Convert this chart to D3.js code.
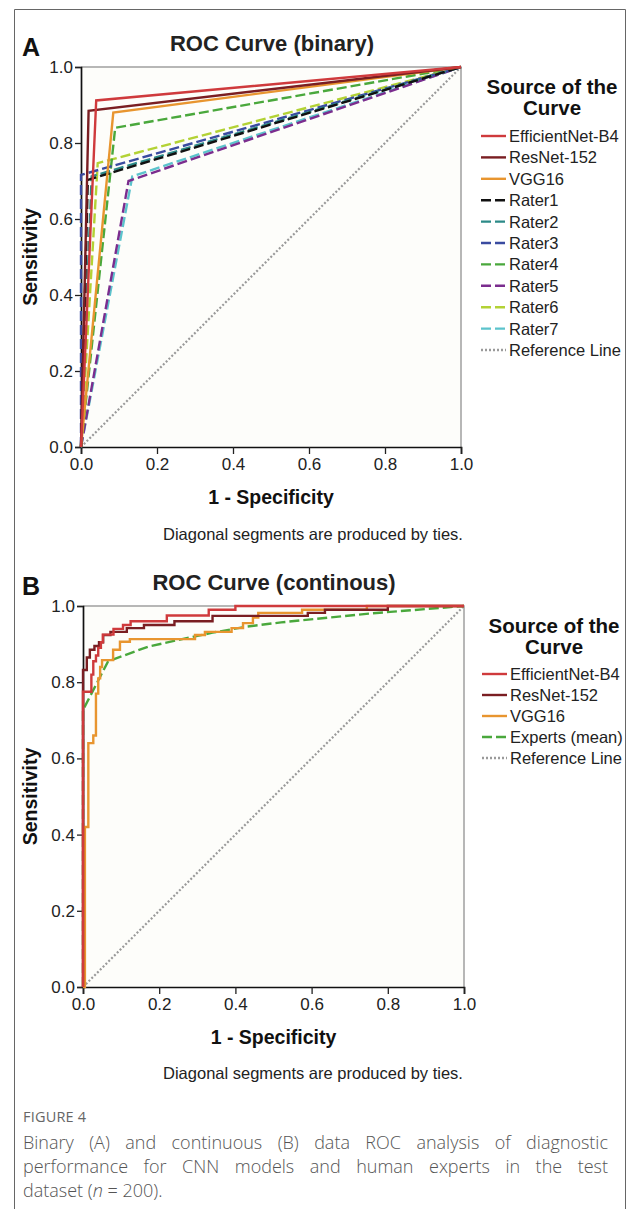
<!DOCTYPE html>
<html>
<head>
<meta charset="utf-8">
<script src="https://cdn.jsdelivr.net/npm/d3@7"></script>
<style>
  body { margin: 0; background: #fff; }
  #cap { position: absolute; left: 23px; top: 1107px; width: 585px;
         font-family: "Open Sans", sans-serif; color: #555; font-weight: 300; }
  #cap .fig { font-size: 14.5px; letter-spacing: 0.2px; margin-bottom: 4px; font-weight: 400; color: #666; }
  #cap .ln { font-size: 18px; line-height: 24px; text-align: justify; text-align-last: justify; white-space: nowrap; }
  #cap .ln.last { text-align-last: left; }
</style>
</head>
<body>
<script>
// ---- data ----
const tickValues = [0, 0.2, 0.4, 0.6, 0.8, 1.0]

// panel A: binary ratings, one operating point per source
const binaryNames = ["EfficientNet-B4", "ResNet-152", "VGG16", "Rater1", "Rater2", "Rater3", "Rater4", "Rater5", "Rater6", "Rater7"]
const binaryColors = ["#cf3a3c", "#7a1e22", "#e8952f", "#111111", "#2c8a88", "#3a4ba0", "#4aa83c", "#7b2d8e", "#b3d235", "#5cc3cc"]
const binaryDashed = [false, false, false, true, true, true, true, true, true, true]
const binaryFpr = [0.04, 0.02, 0.085, 0.018, 0.028, 0.0, 0.09, 0.125, 0.044, 0.135]
const binaryTpr = [0.912, 0.885, 0.88, 0.703, 0.712, 0.716, 0.84, 0.70, 0.747, 0.712]

// panel B: continuous scores (step points: fpr, tpr after each rise)
const contNames = ["EfficientNet-B4", "ResNet-152", "VGG16", "Experts (mean)"]
const contColors = ["#cf3a3c", "#7a1e22", "#e8952f", "#4aa83c"]
const effnetSteps = [[0, 0], [0, 0.775], [0.022, 0.82], [0.027, 0.855], [0.034, 0.87], [0.04, 0.89], [0.047, 0.905],
  [0.052, 0.925], [0.08, 0.94], [0.105, 0.95], [0.125, 0.96], [0.22, 0.975], [0.33, 0.99], [0.4, 1.0], [1, 1]]
const resnetSteps = [[0, 0], [0, 0.832], [0.01, 0.865], [0.018, 0.885], [0.03, 0.895], [0.042, 0.905], [0.053, 0.924],
  [0.072, 0.932], [0.115, 0.942], [0.16, 0.95], [0.24, 0.96], [0.34, 0.974], [0.59, 0.982], [0.635, 0.99], [0.8, 1.0], [1, 1]]
const vggSteps = [[0, 0], [0.005, 0.42], [0.014, 0.64], [0.027, 0.66], [0.034, 0.77], [0.04, 0.81], [0.045, 0.84],
  [0.05, 0.858], [0.079, 0.885], [0.097, 0.906], [0.123, 0.913], [0.294, 0.924], [0.32, 0.932], [0.39, 0.942],
  [0.42, 0.955], [0.446, 0.97], [0.46, 0.982], [0.575, 0.99], [0.745, 1.0], [1, 1]]
const expertsPoints = [[0, 0], [0, 0.727], [0.066, 0.855], [0.17, 0.893], [0.26, 0.913], [0.34, 0.93],
  [0.43, 0.946], [0.52, 0.957], [0.75, 0.98], [1, 1]]

const refColor = "#9a9a9a"
const font = "'Liberation Sans', Arial, sans-serif"

const svg = d3.select("body").append("svg")
  .attr("width", 632).attr("height", 1209)
  .style("position", "absolute").style("left", 0).style("top", 0)
  .attr("font-family", font)

// outer frame
svg.append("path")
  .attr("d", "M14.5,1215V9.5H625.5V1215")
  .attr("fill", "none").attr("stroke", "#666").attr("stroke-width", 1)

function drawPanel(o) {
  const x = d3.scaleLinear().domain([0, 1]).range([o.left, o.left + o.size])
  const y = d3.scaleLinear().domain([0, 1]).range([o.top + o.size, o.top])
  const g = svg.append("g")

  g.append("rect")
    .attr("x", x(0)).attr("y", y(1)).attr("width", o.size).attr("height", o.size)
    .attr("fill", "#fdfdfa")
  g.append("path")
    .attr("d", `M${x(0)},${y(1)}H${x(1)}V${y(0)}`)
    .attr("fill", "none").attr("stroke", "#a0a0a0").attr("stroke-width", 1.5)

  const xa = g.append("g").attr("transform", `translate(0,${y(0)})`)
    .call(d3.axisBottom(x).tickValues(tickValues).tickFormat(d3.format(".1f")).tickSize(7).tickPadding(4))
  const ya = g.append("g").attr("transform", `translate(${x(0)},0)`)
    .call(d3.axisLeft(y).tickValues(tickValues).tickFormat(d3.format(".1f")).tickSize(6).tickPadding(2))
  for (const a of [xa, ya]) {
    a.select(".domain").attr("stroke", "#111").attr("stroke-width", 1.7)
    a.selectAll(".tick line").attr("stroke", "#222").attr("stroke-width", 1.3)
    a.selectAll("text").attr("font-family", font).attr("font-size", 17).attr("fill", "#222")
  }

  // reference line
  const line = d3.line().x(d => x(d[0])).y(d => y(d[1]))
  g.append("path").attr("d", line([[0, 0], [1, 1]]))
    .attr("fill", "none").attr("stroke", refColor).attr("stroke-width", 2.2)
    .attr("stroke-dasharray", "2,2")

  o.series.slice().reverse().forEach(s => {
    g.append("path")
      .attr("d", d3.line().x(d => x(d[0])).y(d => y(d[1])).curve(s.curve || d3.curveLinear)(s.points))
      .attr("fill", "none").attr("stroke", s.color).attr("stroke-width", 2.4)
      .attr("stroke-dasharray", s.dashed ? "10,4" : null)
  })

  // titles
  svg.append("text").attr("x", 22).attr("y", o.top - 11).attr("font-size", 25).attr("font-weight", "bold")
    .attr("fill", "#111").text(o.letter)
  svg.append("text").attr("x", o.titleX).attr("y", o.top - 16).attr("text-anchor", "middle")
    .attr("font-size", 22).attr("font-weight", "bold").attr("fill", "#222").text(o.title)
  svg.append("text").attr("x", x(0.5)).attr("y", y(0) + 57).attr("text-anchor", "middle")
    .attr("font-size", 19.5).attr("font-weight", "bold").attr("fill", "#111").text("1 - Specificity")
  svg.append("text").attr("transform", `translate(37,${y(0.5)}) rotate(-90)`).attr("text-anchor", "middle")
    .attr("font-size", 19.5).attr("font-weight", "bold").attr("fill", "#111").text("Sensitivity")
  svg.append("text").attr("x", 313).attr("y", y(0) + o.noteDy).attr("text-anchor", "middle")
    .attr("font-size", 16.5).attr("fill", "#222").text("Diagonal segments are produced by ties.")

  // legend
  const lg = svg.append("g").attr("transform", `translate(${o.legX},${o.legY})`)
  lg.append("text").attr("x", o.legCx - o.legX).attr("y", 0).attr("text-anchor", "middle")
    .attr("font-size", 20.5).attr("font-weight", "bold").attr("fill", "#111").text("Source of the")
  lg.append("text").attr("x", o.legCx - o.legX).attr("y", 21).attr("text-anchor", "middle")
    .attr("font-size", 20.5).attr("font-weight", "bold").attr("fill", "#111").text("Curve")
  const items = o.series.map(s => ({ name: s.name, color: s.color, dash: s.dashed ? "10,4" : null }))
    .concat([{ name: "Reference Line", color: refColor, dash: "2,2" }])
  items.forEach((it, i) => {
    const yy = o.legFirst + i * o.legStep
    lg.append("line").attr("x1", 0).attr("x2", 25).attr("y1", yy).attr("y2", yy)
      .attr("stroke", it.color).attr("stroke-width", 2.4).attr("stroke-dasharray", it.dash)
    lg.append("text").attr("x", 28).attr("y", yy + 6).attr("font-size", o.legFont).attr("fill", "#222").text(it.name)
  })
}

drawPanel({
  letter: "A", title: "ROC Curve (binary)", titleX: 272,
  left: 81, top: 67, size: 380, noteDy: 93,
  legX: 481, legY: 94, legCx: 552, legFirst: 42, legStep: 21.4, legFont: 16.5,
  series: binaryNames.map((n, i) => ({
    name: n, color: binaryColors[i], dashed: binaryDashed[i],
    points: [[0, 0], [binaryFpr[i], binaryTpr[i]], [1, 1]]
  }))
})

drawPanel({
  letter: "B", title: "ROC Curve (continous)", titleX: 274,
  left: 83, top: 606, size: 381, noteDy: 92,
  legX: 482, legY: 633, legCx: 554, legFirst: 41, legStep: 21, legFont: 16.5,
  series: [
    { name: contNames[0], color: contColors[0], points: effnetSteps, curve: d3.curveStepAfter },
    { name: contNames[1], color: contColors[1], points: resnetSteps, curve: d3.curveStepAfter },
    { name: contNames[2], color: contColors[2], points: vggSteps, curve: d3.curveStepAfter },
    { name: contNames[3], color: contColors[3], points: expertsPoints, dashed: true }
  ]
})

// caption
const cap = d3.select("body").append("div").attr("id", "cap")
cap.append("div").attr("class", "fig").text("FIGURE 4")
cap.append("div").attr("class", "ln").text("Binary (A) and continuous (B) data ROC analysis of diagnostic")
cap.append("div").attr("class", "ln").text("performance for CNN models and human experts in the test")
const last = cap.append("div").attr("class", "ln last")
last.append("span").text("dataset (")
last.append("i").text("n")
last.append("span").text(" = 200).")
</script>
</body>
</html>
